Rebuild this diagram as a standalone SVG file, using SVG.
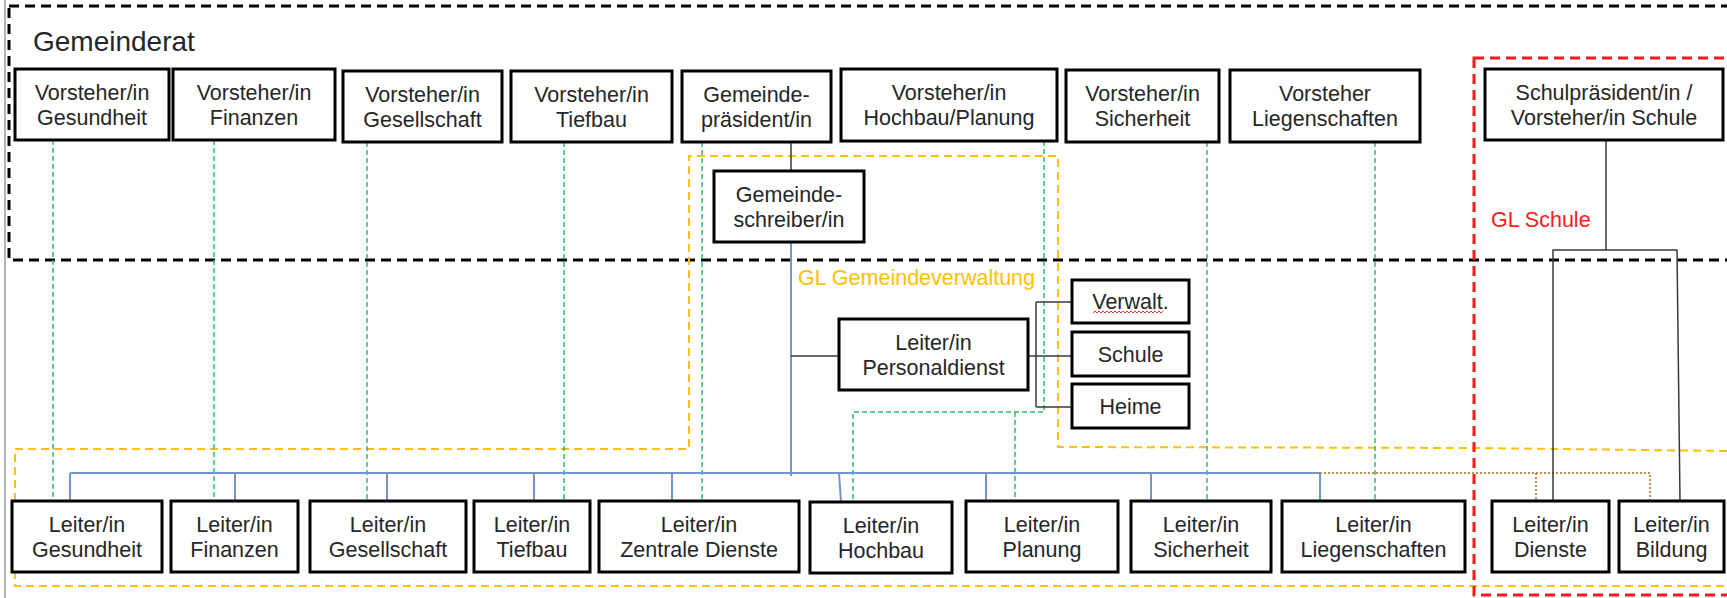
<svg xmlns="http://www.w3.org/2000/svg" width="1727" height="598" viewBox="0 0 1727 598">
<style>
.box{fill:#fff;stroke:#000;stroke-width:3}
.t{font-family:"Liberation Sans",Arial,sans-serif;font-size:21.5px;fill:#262626;text-anchor:middle}
.green{stroke:#2fbf63;stroke-width:1.5;stroke-dasharray:5 3;fill:none}
.blue{stroke:#7196cc;stroke-width:2;fill:none}
.blk{stroke:#3a3a3a;stroke-width:1.5;fill:none}
.brown{stroke:#b5651d;stroke-width:1.5;stroke-dasharray:2 2;fill:none}
.frameBlack{fill:none;stroke:#000;stroke-width:3;stroke-dasharray:10 6}
.frameRed{fill:none;stroke:#ff1a1a;stroke-width:3;stroke-dasharray:10 6}
.frameYellow{fill:none;stroke:#ffc000;stroke-width:2;stroke-dasharray:8 5}
</style>
<rect width="1727" height="598" fill="#fff"/>
<line x1="5" y1="0" x2="5" y2="598" stroke="#9a9a9a" stroke-width="1.5"/>

<g id="frames">
  <rect id="gemeinderat-frame" class="frameBlack" x="9" y="6" width="1800" height="254"/>
  <path id="gl-gemeindeverwaltung-frame" class="frameYellow" d="M1727,451 L1472,448 L1058,447 V156 H689 V449 H15 V586 H1727"/>
  <rect id="gl-schule-frame" class="frameRed" x="1474" y="58" width="300" height="537"/>
  <text x="33" y="51" style="font-family:'Liberation Sans',Arial,sans-serif;font-size:28px;fill:#262626">Gemeinderat</text>
  <text x="798" y="285" style="font-family:'Liberation Sans',Arial,sans-serif;font-size:21.5px;fill:#ffc000">GL Gemeindeverwaltung</text>
  <text x="1491" y="227" style="font-family:'Liberation Sans',Arial,sans-serif;font-size:21.5px;fill:#ff1a1a">GL Schule</text>
</g>

<g id="connectors">
  <path class="green" d="M53,140 V501 M214,140 V501 M367,142 V501 M564,142 V501 M702,142 V501 M1044,141 V412 H853 V502 M1015,412 V501 M1207,142 V501 M1375,142 V501"/>
  <path class="blk" d="M791,142 V171"/>
  <path class="blue" d="M791,242 V476 M70,473 H1320 M70,473 V501 M235,473 V500 M387,473 V501 M534,473 V501 M672,473 V501 M839,473 L841,502 M986,473 V501 M1151,473 V501 M1320,473 V502"/>
  <path class="blk" d="M791,356 H839 M1028,356 H1072 M1036,302 V407 M1036,302 H1072 M1036,407 H1072"/>
  <path class="brown" d="M1320,473 H1650 V501 M1536,473 V501"/>
  <path class="blk" d="M1606,140 V250 M1553,501 V250 H1677 L1680,501"/>
</g>

<g id="top-row">
  <g id="v-gesundheit"><rect class="box" x="15" y="69" width="154" height="71"/><text class="t" x="92"><tspan x="92" y="100">Vorsteher/in</tspan><tspan x="92" y="125">Gesundheit</tspan></text></g>
  <g id="v-finanzen"><rect class="box" x="173" y="69" width="162" height="71"/><text class="t"><tspan x="254" y="100">Vorsteher/in</tspan><tspan x="254" y="125">Finanzen</tspan></text></g>
  <g id="v-gesellschaft"><rect class="box" x="343" y="71" width="159" height="71"/><text class="t"><tspan x="422.5" y="102">Vorsteher/in</tspan><tspan x="422.5" y="127">Gesellschaft</tspan></text></g>
  <g id="v-tiefbau"><rect class="box" x="511" y="71" width="161" height="71"/><text class="t"><tspan x="591.5" y="102">Vorsteher/in</tspan><tspan x="591.5" y="127">Tiefbau</tspan></text></g>
  <g id="gemeindepraesident"><rect class="box" x="682" y="71" width="149" height="71"/><text class="t"><tspan x="756.5" y="102">Gemeinde-</tspan><tspan x="756.5" y="127">präsident/in</tspan></text></g>
  <g id="v-hochbau-planung"><rect class="box" x="841" y="69" width="216" height="72"/><text class="t"><tspan x="949" y="100">Vorsteher/in</tspan><tspan x="949" y="125">Hochbau/Planung</tspan></text></g>
  <g id="v-sicherheit"><rect class="box" x="1066" y="70" width="153" height="72"/><text class="t"><tspan x="1142.5" y="101">Vorsteher/in</tspan><tspan x="1142.5" y="126">Sicherheit</tspan></text></g>
  <g id="v-liegenschaften"><rect class="box" x="1230" y="70" width="190" height="72"/><text class="t"><tspan x="1325" y="101">Vorsteher</tspan><tspan x="1325" y="126">Liegenschaften</tspan></text></g>
  <g id="schulpraesident"><rect class="box" x="1485" y="69" width="238" height="71"/><text class="t"><tspan x="1604" y="100">Schulpräsident/in /</tspan><tspan x="1604" y="125">Vorsteher/in Schule</tspan></text></g>
</g>

<g id="middle">
  <g id="gemeindeschreiber"><rect class="box" x="714" y="171" width="150" height="71"/><text class="t"><tspan x="789" y="201.5">Gemeinde-</tspan><tspan x="789" y="226.5">schreiber/in</tspan></text></g>
  <g id="personaldienst"><rect class="box" x="839" y="319" width="189" height="71"/><text class="t"><tspan x="933.5" y="349.5">Leiter/in</tspan><tspan x="933.5" y="374.5">Personaldienst</tspan></text></g>
  <g id="verwalt"><rect class="box" x="1072" y="280" width="117" height="43"/><text class="t" x="1130.5" y="309">Verwalt.</text><path d="M1093,313 l2,-2 l2,2 l2,-2 l2,2 l2,-2 l2,2 l2,-2 l2,2 l2,-2 l2,2 l2,-2 l2,2 l2,-2 l2,2 l2,-2 l2,2 l2,-2 l2,2 l2,-2 l2,2 l2,-2 l2,2 l2,-2 l2,2 l2,-2 l2,2 l2,-2 l2,2 l2,-2 l2,2 l2,-2 l2,2 l2,-2 l2,2 l2,-2" fill="none" stroke="#e33" stroke-width="1"/></g>
  <g id="schule"><rect class="box" x="1072" y="332" width="117" height="44"/><text class="t" x="1130.5" y="361.5">Schule</text></g>
  <g id="heime"><rect class="box" x="1072" y="384" width="117" height="44"/><text class="t" x="1130.5" y="413.5">Heime</text></g>
</g>

<g id="bottom-row">
  <g id="l-gesundheit"><rect class="box" x="12" y="501" width="150" height="71"/><text class="t"><tspan x="87" y="531.5">Leiter/in</tspan><tspan x="87" y="556.5">Gesundheit</tspan></text></g>
  <g id="l-finanzen"><rect class="box" x="171" y="501" width="127" height="71"/><text class="t"><tspan x="234.5" y="531.5">Leiter/in</tspan><tspan x="234.5" y="556.5">Finanzen</tspan></text></g>
  <g id="l-gesellschaft"><rect class="box" x="310" y="501" width="156" height="71"/><text class="t"><tspan x="388" y="531.5">Leiter/in</tspan><tspan x="388" y="556.5">Gesellschaft</tspan></text></g>
  <g id="l-tiefbau"><rect class="box" x="474" y="501" width="116" height="71"/><text class="t"><tspan x="532" y="531.5">Leiter/in</tspan><tspan x="532" y="556.5">Tiefbau</tspan></text></g>
  <g id="l-zentrale"><rect class="box" x="599" y="501" width="200" height="71"/><text class="t"><tspan x="699" y="531.5">Leiter/in</tspan><tspan x="699" y="556.5">Zentrale Dienste</tspan></text></g>
  <g id="l-hochbau"><rect class="box" x="810" y="502" width="142" height="71"/><text class="t"><tspan x="881" y="532.5">Leiter/in</tspan><tspan x="881" y="557.5">Hochbau</tspan></text></g>
  <g id="l-planung"><rect class="box" x="966" y="501" width="152" height="71"/><text class="t"><tspan x="1042" y="531.5">Leiter/in</tspan><tspan x="1042" y="556.5">Planung</tspan></text></g>
  <g id="l-sicherheit"><rect class="box" x="1131" y="501" width="140" height="71"/><text class="t"><tspan x="1201" y="531.5">Leiter/in</tspan><tspan x="1201" y="556.5">Sicherheit</tspan></text></g>
  <g id="l-liegenschaften"><rect class="box" x="1282" y="501" width="183" height="71"/><text class="t"><tspan x="1373.5" y="531.5">Leiter/in</tspan><tspan x="1373.5" y="556.5">Liegenschaften</tspan></text></g>
  <g id="l-dienste"><rect class="box" x="1492" y="501" width="117" height="71"/><text class="t"><tspan x="1550.5" y="531.5">Leiter/in</tspan><tspan x="1550.5" y="556.5">Dienste</tspan></text></g>
  <g id="l-bildung"><rect class="box" x="1619" y="501" width="105" height="71"/><text class="t"><tspan x="1671.5" y="531.5">Leiter/in</tspan><tspan x="1671.5" y="556.5">Bildung</tspan></text></g>
</g>
</svg>
